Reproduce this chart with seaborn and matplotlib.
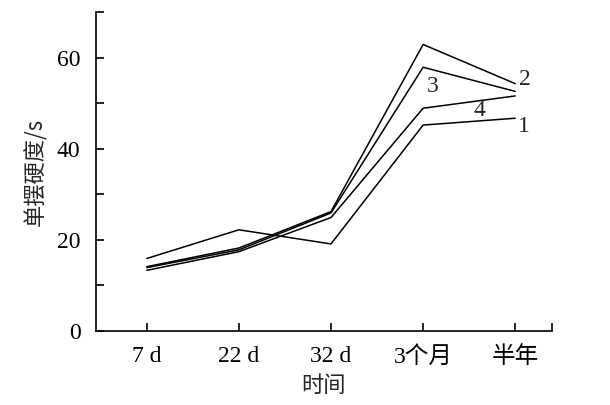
import matplotlib
matplotlib.use('Agg')
import matplotlib.pyplot as plt
import seaborn as sns
import pandas as pd
from matplotlib.ticker import FixedLocator

# data
times = ["7 d", "22 d", "32 d", "3个月", "半年"]
line_1 = [15.9, 22.2, 19.1, 45.2, 46.7]
line_2 = [14.1, 18.2, 26.2, 62.9, 54.3]
line_3 = [13.9, 17.8, 25.9, 57.9, 52.6]
line_4 = [13.3, 17.4, 24.9, 48.9, 51.6]
series_names = ["1", "2", "3", "4"]
y_ticks = [0, 10, 20, 30, 40, 50, 60, 70]
y_tick_labels = ["0", "", "20", "", "40", "", "60", ""]
# label spots: (x index, y value)
label_spots = {"1": (4.09, 44.8), "2": (4.11, 55.2), "3": (3.10, 53.6), "4": (3.61, 48.4)}

rows = []
for name, vals in zip(series_names, [line_1, line_2, line_3, line_4]):
    for t, v in zip(times, vals):
        rows.append({"time": t, "hardness": v, "line": name})
df = pd.DataFrame(rows)

sns.set_theme(style="ticks")
fonts = ['Liberation Serif', 'Noto Sans CJK SC']
plt.rcParams['font.family'] = fonts

fig = plt.figure(figsize=(6.1, 4.05), dpi=100)
ax = fig.add_axes([0.157, 0.183, 0.748, 0.787])

sns.lineplot(data=df, x="time", y="hardness", hue="line",
             palette=["black"] * 4, linewidth=1.1, legend=False, ax=ax, sort=False)

for name, (xx, yy) in label_spots.items():
    ax.text(xx, yy, name, ha="center", va="center", fontsize=17, family=fonts)

ax.set_xlim(-0.554, 4.40)
ax.set_ylim(0, 70)
ax.yaxis.set_major_locator(FixedLocator(y_ticks))
ax.set_yticklabels(y_tick_labels)
ax.xaxis.set_minor_locator(FixedLocator([4.40]))

for s in ["top", "right"]:
    ax.spines[s].set_visible(False)
for s in ["left", "bottom"]:
    ax.spines[s].set_linewidth(1.2)
    ax.spines[s].set_color("black")

ax.tick_params(axis="both", which="both", direction="in", length=6, width=1.2,
               colors="black", labelsize=17)
ax.tick_params(axis="x", pad=11)
ax.tick_params(axis="y", pad=11)

ax.set_xlabel("时间", fontsize=16, family=['Noto Sans CJK SC'], labelpad=4)
ax.set_ylabel("单摆硬度/s", fontsize=16, family=['Noto Sans CJK SC', 'Liberation Serif'], labelpad=7)

fig.savefig("out.png", dpi=100)
